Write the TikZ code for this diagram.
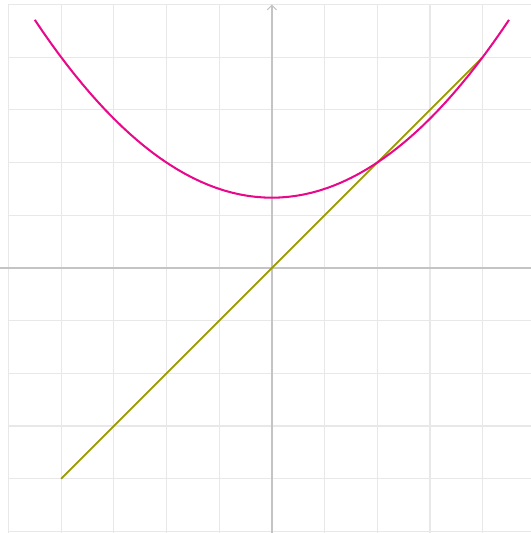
\documentclass[tikz,border=0pt]{standalone}
\usetikzlibrary{arrows.meta}
\definecolor{gridgray}{HTML}{E8E8E8}
\definecolor{axisgray}{HTML}{C4C4C4}
\definecolor{curvepink}{HTML}{E8088A}
\definecolor{lineolive}{HTML}{9A9A00}
\begin{document}
\begin{tikzpicture}
\useasboundingbox(-5.16,-5.03) rectangle (4.915,5.085);
\clip(-5.16,-5.03) rectangle (4.915,5.085);
\draw[gridgray,line width=.6pt](-5,-5.03) grid (4.915,5);
\draw[axisgray,line width=1pt](-5.16,0)--(4.915,0);
\draw[axisgray,line width=1pt,-{Straight Barb[length=2.5pt,width=5pt,line width=.6pt]}](0,-5.03)--(0,5);
\draw[lineolive,line width=1pt](-4,-4)--(4,4);
\draw[curvepink,line width=1.1pt,domain=-4.5:4.5,samples=61]plot(\x,{\x*\x/6+4/3});
\end{tikzpicture}
\end{document}
